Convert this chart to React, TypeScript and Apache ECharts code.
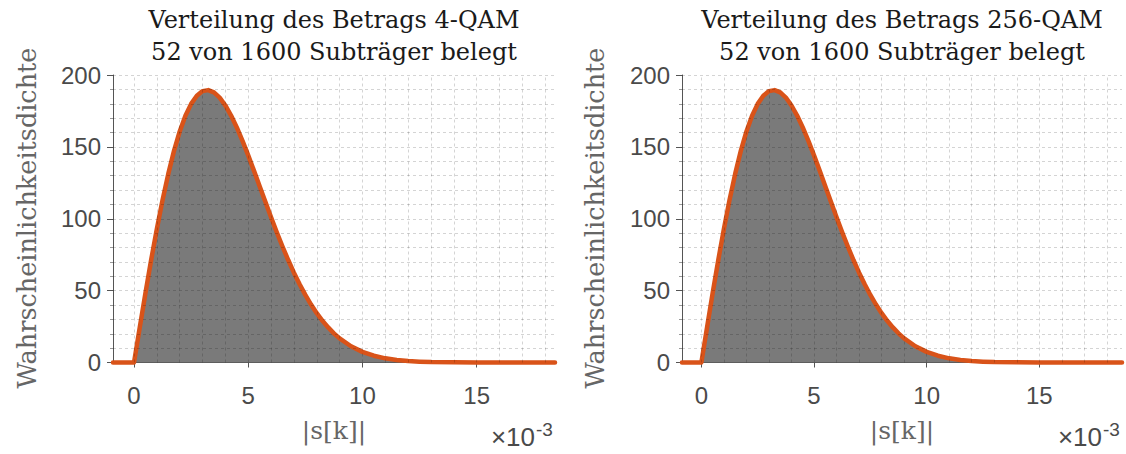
import { useEffect, useRef } from 'react';
import * as echarts from 'echarts';

// |s[k]| in units of 1e-3 and the matching probability density
const magnitude = [
  0, 0.25, 0.5, 0.75, 1, 1.25, 1.5, 1.75, 2, 2.25, 2.5, 2.75, 3, 3.25, 3.5, 3.75,
  4, 4.25, 4.5, 4.75, 5, 5.25, 5.5, 5.75, 6, 6.25, 6.5, 6.75, 7, 7.25, 7.5, 7.75,
  8, 8.25, 8.5, 8.75, 9, 9.5, 10, 10.5, 11, 11.5, 12, 12.5, 13, 14, 15, 16,
];
const density = [
  0, 24.3, 48.2, 71.3, 93.0, 113.1, 131.2, 147.2, 160.7, 171.6, 179.9, 185.6, 188.8, 189.5, 187.9, 184.3,
  178.8, 171.8, 163.5, 154.2, 144.1, 133.5, 122.6, 111.8, 101.0, 90.6, 80.7, 71.3, 62.5, 54.4, 47.0, 40.3,
  34.3, 29.0, 24.4, 20.3, 16.8, 11.3, 7.4, 4.7, 2.9, 1.8, 1.0, 0.6, 0.3, 0.1, 0, 0,
];

const panelTitles = ['Verteilung des Betrags 4-QAM', 'Verteilung des Betrags 256-QAM'];
const panelSubtitle = '52 von 1600 Subträger belegt';
const yAxisTitle = 'Wahrscheinlichkeitsdichte';
const xAxisTitle = '|s[k]|';
const xExponent = '-3';

const xTickValues = [0, 5, 10, 15];
const xLimits = [
  [-0.92, 18.43],
  [-0.86, 18.67],
];
const yMin = 0;
const yMax = 200;
const yStep = 50;
const xGridValues = [0, 1, 2, 3, 4, 5, 6, 7, 8, 9, 10, 11, 12, 13, 14, 15, 16, 17, 18];
const yGridValues = [10, 20, 30, 40, 50, 60, 70, 80, 90, 100, 110, 120, 130, 140, 150, 160, 170, 180, 190, 200];

const panels = [
  { left: 113, width: 442, center: 334, labelX: 27 },
  { left: 682, width: 440, center: 902, labelX: 595 },
];
const gridTop = 75;
const gridHeight = 287.5;

const serif = '"DejaVu Serif", "Liberation Serif", serif';
const sans = '"Liberation Sans", Arial, sans-serif';
const axisColor = '#555555';
const labelColor = '#4a4a4a';
const curveColor = '#D95319';
const fillColor = '#7a7a7a';

export default function App() {
  const ref = useRef<HTMLDivElement>(null);

  useEffect(() => {
    if (!ref.current) return;
    const chart = echarts.init(ref.current, undefined, { renderer: 'svg' });

    const points = magnitude.map((m, i) => [m, density[i]]);

    const grid = panels.map((p) => ({
      left: p.left,
      top: gridTop,
      width: p.width,
      height: gridHeight,
      containLabel: false,
    }));

    const xAxis = panels.map((_, i) => ({
      type: 'value',
      gridIndex: i,
      min: xLimits[i][0],
      max: xLimits[i][1],
      axisLine: { show: true, onZero: false, lineStyle: { color: axisColor, width: 1 } },
      axisTick: {
        show: true,
        customValues: xTickValues,
        length: 5,
        lineStyle: { color: axisColor },
      },
      axisLabel: {
        customValues: xTickValues,
        fontSize: 24,
        fontFamily: sans,
        color: labelColor,
        margin: 21,
      },
      splitLine: { show: false },
    }));

    const yAxis = panels.map((_, i) => ({
      type: 'value',
      gridIndex: i,
      min: yMin,
      max: yMax,
      interval: yStep,
      axisLine: { show: true, onZero: false, lineStyle: { color: axisColor, width: 1 } },
      axisTick: { show: true, length: 6, lineStyle: { color: axisColor } },
      minorTick: { show: true, splitNumber: 5, length: 3, lineStyle: { color: '#999999' } },
      axisLabel: {
        fontSize: 24,
        fontFamily: sans,
        color: labelColor,
        margin: 12,
      },
      splitLine: { show: false },
    }));

    const series: any[] = [];
    panels.forEach((_, i) => {
      // histogram area
      series.push({
        type: 'line',
        xAxisIndex: i,
        yAxisIndex: i,
        data: points,
        symbol: 'none',
        lineStyle: { width: 0 },
        areaStyle: { color: fillColor, opacity: 1 },
        z: 1,
        silent: true,
      });
      // dashed grid, drawn over the histogram
      series.push({
        type: 'line',
        xAxisIndex: i,
        yAxisIndex: i,
        data: [],
        z: 2,
        silent: true,
        markLine: {
          silent: true,
          symbol: ['none', 'none'],
          label: { show: false },
          lineStyle: { color: 'rgba(0,0,0,0.17)', type: [3, 3], width: 1 },
          data: [
            ...xGridValues.filter((v) => v <= xLimits[i][1]).map((v) => ({ xAxis: v })),
            ...yGridValues.map((v) => ({ yAxis: v })),
          ],
        },
      });
      // density curve
      series.push({
        type: 'line',
        xAxisIndex: i,
        yAxisIndex: i,
        data: [[xLimits[i][0], 0], ...points, [xLimits[i][1], 0]],
        symbol: 'none',
        clip: false,
        lineStyle: { color: curveColor, width: 4.5, join: 'round', cap: 'round' },
        z: 3,
        silent: true,
      });
    });

    const centered = {
      textAlign: 'center',
      textVerticalAlign: 'middle',
      align: 'center',
      verticalAlign: 'middle',
    };

    const graphic: any[] = [];
    panels.forEach((p, i) => {
      graphic.push({
        type: 'text',
        x: p.center,
        y: 20,
        style: { text: panelTitles[i], fontSize: 24, fontFamily: serif, fill: '#1a1a1a', ...centered },
      });
      graphic.push({
        type: 'text',
        x: p.center,
        y: 52,
        style: { text: panelSubtitle, fontSize: 24, fontFamily: serif, fill: '#1a1a1a', ...centered },
      });
      graphic.push({
        type: 'text',
        x: p.labelX,
        y: 218,
        rotation: Math.PI / 2,
        style: { text: yAxisTitle, fontSize: 25.5, fontFamily: serif, fill: '#666666', ...centered },
      });
      graphic.push({
        type: 'text',
        x: p.center,
        y: 430,
        style: { text: xAxisTitle, fontSize: 25, fontFamily: serif, fill: '#666666', ...centered },
      });
      const right = p.left + p.width;
      graphic.push({
        type: 'text',
        x: right - 20,
        y: 450,
        style: {
          text: '×10',
          fontSize: 26,
          fontFamily: sans,
          fill: labelColor,
          textAlign: 'right',
          textVerticalAlign: 'bottom',
          align: 'right',
          verticalAlign: 'bottom',
        },
      });
      graphic.push({
        type: 'text',
        x: right - 19,
        y: 420,
        style: {
          text: xExponent,
          fontSize: 19,
          fontFamily: sans,
          fill: labelColor,
          textAlign: 'left',
          textVerticalAlign: 'top',
          align: 'left',
          verticalAlign: 'top',
        },
      });
    });

    chart.setOption({
      animation: false,
      backgroundColor: '#ffffff',
      grid,
      xAxis,
      yAxis,
      series,
      graphic,
    });

    return () => chart.dispose();
  }, []);

  return (
    <div
      ref={ref}
      style={{ position: 'absolute', left: 0, top: 0, width: 1126, height: 454 }}
    />
  );
}
